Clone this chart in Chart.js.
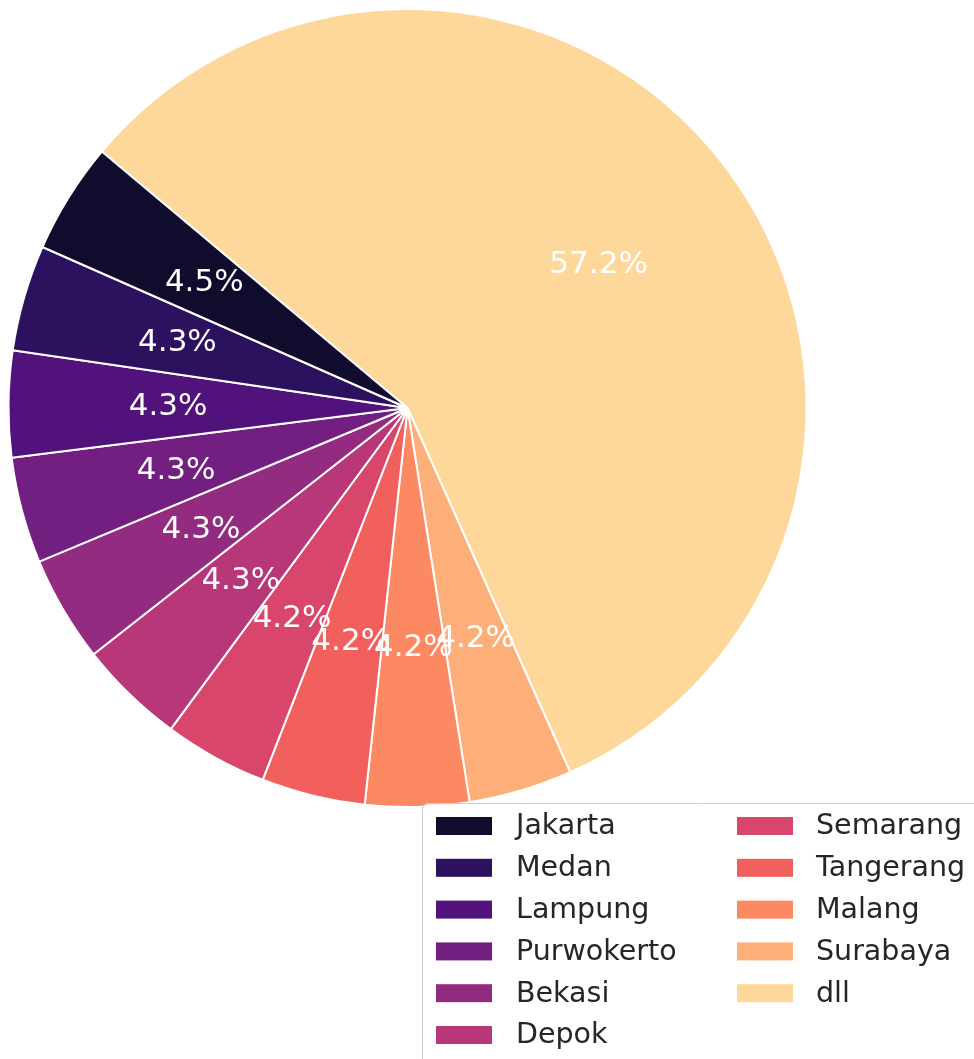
<!DOCTYPE html>
<html><head><meta charset="utf-8">
<script src="https://cdn.jsdelivr.net/npm/chart.js@4/dist/chart.umd.min.js"></script>
<style>html,body{margin:0;padding:0;background:#fff;overflow:hidden}#wrap{width:974px;height:1059px;position:relative}</style>
</head><body><div id="wrap"><canvas id="c"></canvas></div>
<script>
const cities = ['Jakarta','Medan','Lampung','Purwokerto','Bekasi','Depok','Semarang','Tangerang','Malang','Surabaya','dll'];
const shares = [4.5,4.3,4.3,4.3,4.3,4.3,4.2,4.2,4.2,4.2,57.2];
const colors = ['#110c2e','#2c115f','#51127c','#721f81','#932b80','#b73779','#d8466b','#f1605d','#fc8961','#feaf79','#fed79a'];

// matplotlib draws counter-clockwise; Chart.js clockwise -> feed reversed order
const revLabels = cities.slice().reverse();
const revShares = shares.slice().reverse();
const revColors = colors.slice().reverse();

const FONT = '"DejaVu Sans", sans-serif';

const pctLabels = {
  id: 'pctLabels',
  afterDatasetsDraw(chart) {
    const ctx = chart.ctx;
    const meta = chart.getDatasetMeta(0);
    const ds = chart.data.datasets[0].data;
    ctx.save();
    ctx.font = '31px ' + FONT;
    ctx.fillStyle = '#ffffff';
    ctx.textAlign = 'center';
    ctx.textBaseline = 'middle';
    meta.data.forEach((arc, i) => {
      const p = arc.getProps(['x','y','startAngle','endAngle','outerRadius'], true);
      const mid = (p.startAngle + p.endAngle) / 2;
      const r = p.outerRadius * 0.6;
      ctx.fillText(ds[i].toFixed(1) + '%', p.x + r * Math.cos(mid), p.y + r * Math.sin(mid) + 1);
    });
    ctx.restore();
  }
};

const boxLegend = {
  id: 'boxLegend',
  afterDraw(chart) {
    const ctx = chart.ctx;
    ctx.save();
    ctx.beginPath();
    ctx.roundRect(422.5, 803.5, 600, 300, 6);
    ctx.fillStyle = 'rgba(255,255,255,0.85)';
    ctx.fill();
    ctx.strokeStyle = '#cccccc';
    ctx.lineWidth = 1;
    ctx.stroke();
    ctx.font = '28.5px ' + FONT;
    ctx.textBaseline = 'middle';
    ctx.textAlign = 'left';
    const perCol = 6;
    cities.forEach((name, i) => {
      const col = Math.floor(i / perCol), row = i % perCol;
      const px = col === 0 ? 436 : 737;
      const tx = col === 0 ? 516 : 816;
      const cy = 826 + row * 41.8;
      ctx.fillStyle = colors[i];
      ctx.fillRect(px, cy - 9, 56, 18);
      ctx.fillStyle = '#262626';
      ctx.fillText(name, tx, cy + 1);
    });
    ctx.restore();
  }
};

new Chart(document.getElementById('c'), {
  type: 'pie',
  data: {
    labels: revLabels,
    datasets: [{
      data: revShares,
      backgroundColor: revColors,
      borderColor: '#ffffff',
      borderWidth: 2,
      hoverOffset: 0
    }]
  },
  options: {
    responsive: true,
    maintainAspectRatio: false,
    animation: false,
    rotation: -50,
    layout: { padding: { left: 7, top: 8, right: 166, bottom: 251 } },
    plugins: { legend: { display: false }, tooltip: { enabled: false } }
  },
  plugins: [pctLabels, boxLegend]
});
</script>
</body></html>
